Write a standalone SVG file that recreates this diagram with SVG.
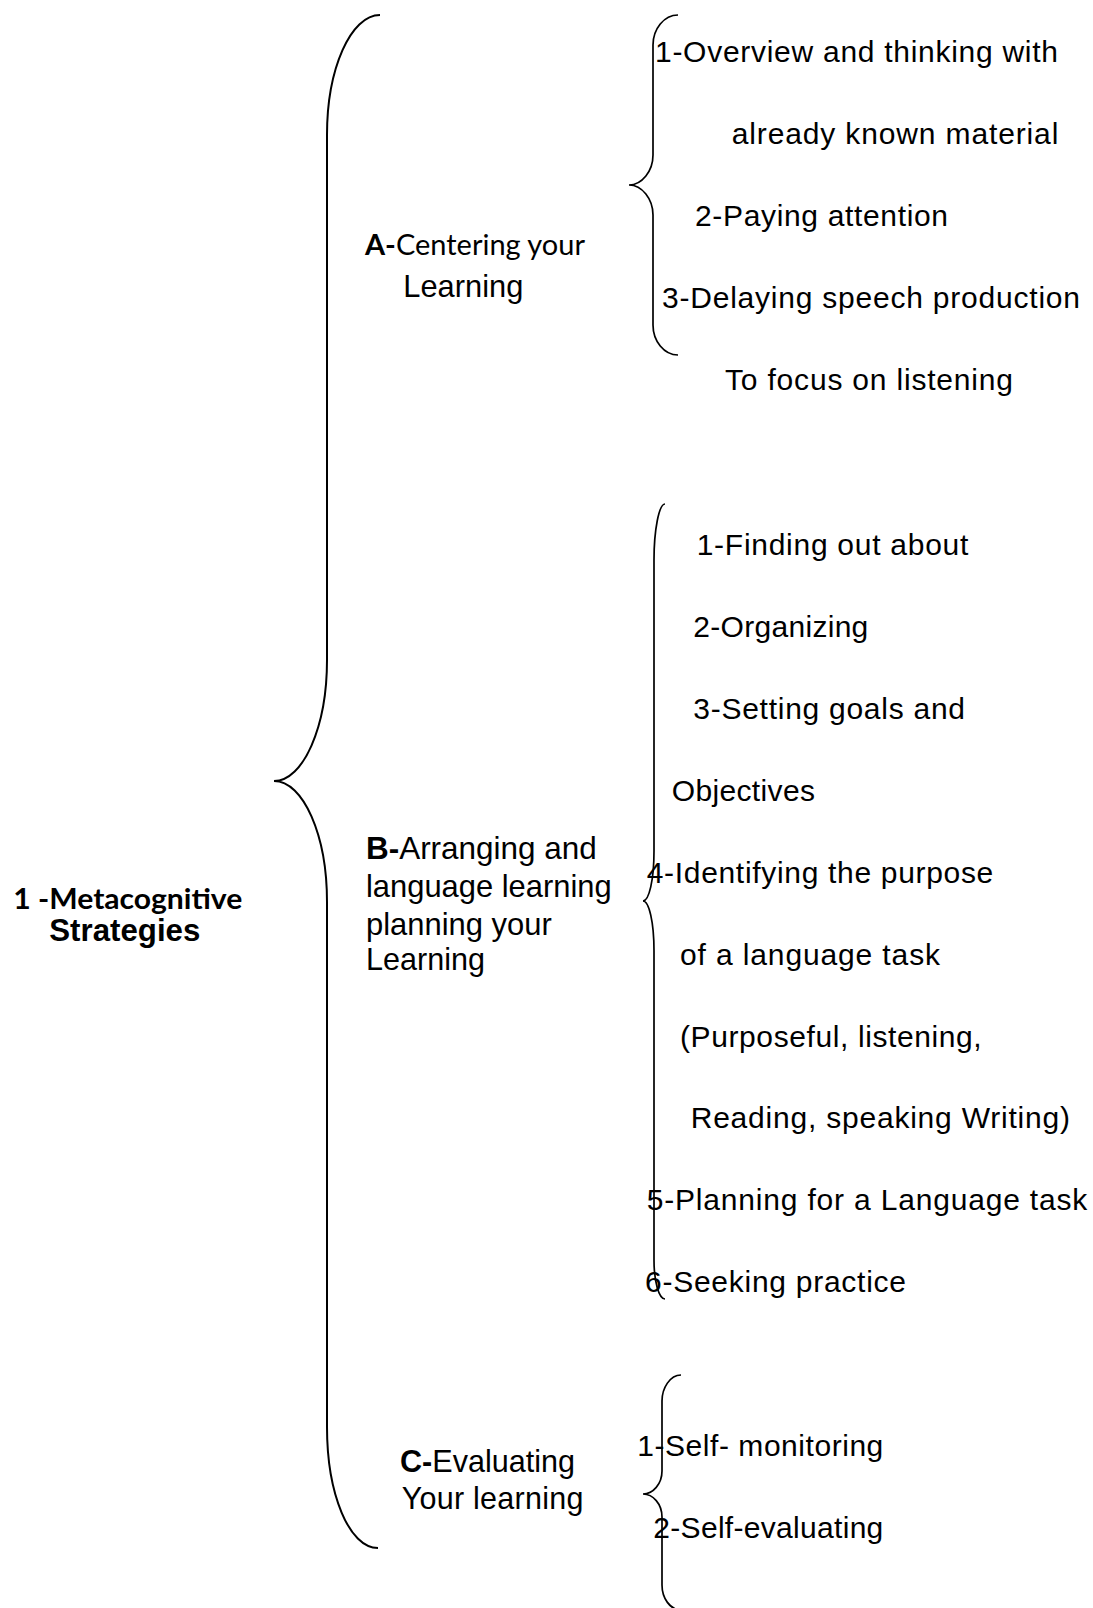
<svg xmlns="http://www.w3.org/2000/svg" width="1093" height="1608" viewBox="0 0 1093 1608">
<style>
  .t { font-family: "Liberation Sans", Arial, sans-serif; font-size: 30px; fill: #000; }
  .lbl { font-family: "Liberation Sans", Arial, sans-serif; font-size: 30.5px; fill: #000; }
  .cal { font-family: Lato, "Open Sans", sans-serif; font-size: 28.5px; fill: #000; }
  .b { font-weight: bold; }
  .brace { fill: none; stroke: #000; stroke-width: 1.7; }
  .main { stroke-width: 2; }
</style>
<rect width="1093" height="1608" fill="#fff"/>

<g id="connectors">
  <path class="brace main" d="M380,15 C350.7,15 327,68.8 327,135 L327,660 C327,726.8 303.3,781 274,781 C303.3,781 327,835.2 327,902 L327,1427 C327,1493.8 349,1548 378,1548"/>
  <path class="brace" d="M678,15 C664,15 653,29 653,45 L653,155 C653,171 642,185 629,185 C642,185 653,199 653,215 L653,325 C653,341 664,355 678,355"/>
  <path class="brace" d="M665,504 C659,504 654,530 654,560 L654,851 C654,880 649,901 643,901 C649,901 654,922 654,951 L654,1260 C654,1282 659,1299 665,1299"/>
  <path class="brace" d="M681,1375 C670,1375 662,1388 662,1401 L662,1471 C662,1484 653,1494 643,1494 C653,1494 662,1504 662,1517 L662,1585 C662,1598 670,1610 681,1610"/>
</g>

<g id="root">
  <text x="13.3" y="909" font-family="Lato, 'Open Sans', sans-serif" font-size="28.5" font-weight="bold" textLength="229" lengthAdjust="spacingAndGlyphs">1 -Metacognitive</text>
  <text class="lbl b" x="49.3" y="941" font-size="31.5" textLength="151" lengthAdjust="spacingAndGlyphs">Strategies</text>
</g>

<g id="node-a">
  <text class="cal" x="365" y="255" textLength="220" lengthAdjust="spacingAndGlyphs"><tspan class="b">A-</tspan>Centering your</text>
  <text class="lbl" x="403.3" y="297" textLength="120" lengthAdjust="spacingAndGlyphs">Learning</text>
</g>

<g id="node-b">
  <text class="lbl" x="366" y="859" textLength="230.7" lengthAdjust="spacingAndGlyphs"><tspan class="b">B-</tspan>Arranging and</text>
  <text class="lbl" x="366" y="897" textLength="245.7" lengthAdjust="spacingAndGlyphs">language learning</text>
  <text class="lbl" x="366" y="935" textLength="185.7" lengthAdjust="spacingAndGlyphs">planning your</text>
  <text class="lbl" x="366" y="970" textLength="119" lengthAdjust="spacingAndGlyphs">Learning</text>
</g>

<g id="node-c">
  <text class="lbl" x="400" y="1472" textLength="175" lengthAdjust="spacingAndGlyphs"><tspan class="b">C-</tspan>Evaluating</text>
  <text class="lbl" x="401.7" y="1509" textLength="181.7" lengthAdjust="spacing">Your  learning</text>
</g>

<g id="items-a">
  <text class="t" x="655" y="62" textLength="403" lengthAdjust="spacing">1-Overview and thinking with</text>
  <text class="t" x="731.7" y="144" textLength="326.6" lengthAdjust="spacing">already known material</text>
  <text class="t" x="695" y="226" textLength="253" lengthAdjust="spacing">2-Paying attention</text>
  <text class="t" x="662" y="308" textLength="418" lengthAdjust="spacing">3-Delaying speech production</text>
  <text class="t" x="725" y="390" textLength="288" lengthAdjust="spacing">To focus on listening</text>
</g>

<g id="items-b">
  <text class="t" x="696.7" y="555" textLength="271.6" lengthAdjust="spacing">1-Finding out about</text>
  <text class="t" x="693.3" y="637" textLength="175" lengthAdjust="spacing">2-Organizing</text>
  <text class="t" x="693.3" y="719" textLength="271.7" lengthAdjust="spacing">3-Setting goals and</text>
  <text class="t" x="671.7" y="801" textLength="143.3" lengthAdjust="spacing">Objectives</text>
  <text class="t" x="646.7" y="883" textLength="346.6" lengthAdjust="spacing">4-Identifying the purpose</text>
  <text class="t" x="680" y="965" textLength="260" lengthAdjust="spacing">of a language task</text>
  <text class="t" x="680" y="1047" textLength="301.7" lengthAdjust="spacing">(Purposeful, listening,</text>
  <text class="t" x="690.7" y="1128" textLength="379.3" lengthAdjust="spacing">Reading, speaking Writing)</text>
  <text class="t" x="646.7" y="1210" textLength="440.6" lengthAdjust="spacing">5-Planning for a Language task</text>
  <text class="t" x="645" y="1292" textLength="261" lengthAdjust="spacing">6-Seeking practice</text>
</g>

<g id="items-c">
  <text class="t" x="637.3" y="1456" textLength="246" lengthAdjust="spacing">1-Self- monitoring</text>
  <text class="t" x="653.3" y="1538" textLength="230" lengthAdjust="spacing">2-Self-evaluating</text>
</g>
</svg>
